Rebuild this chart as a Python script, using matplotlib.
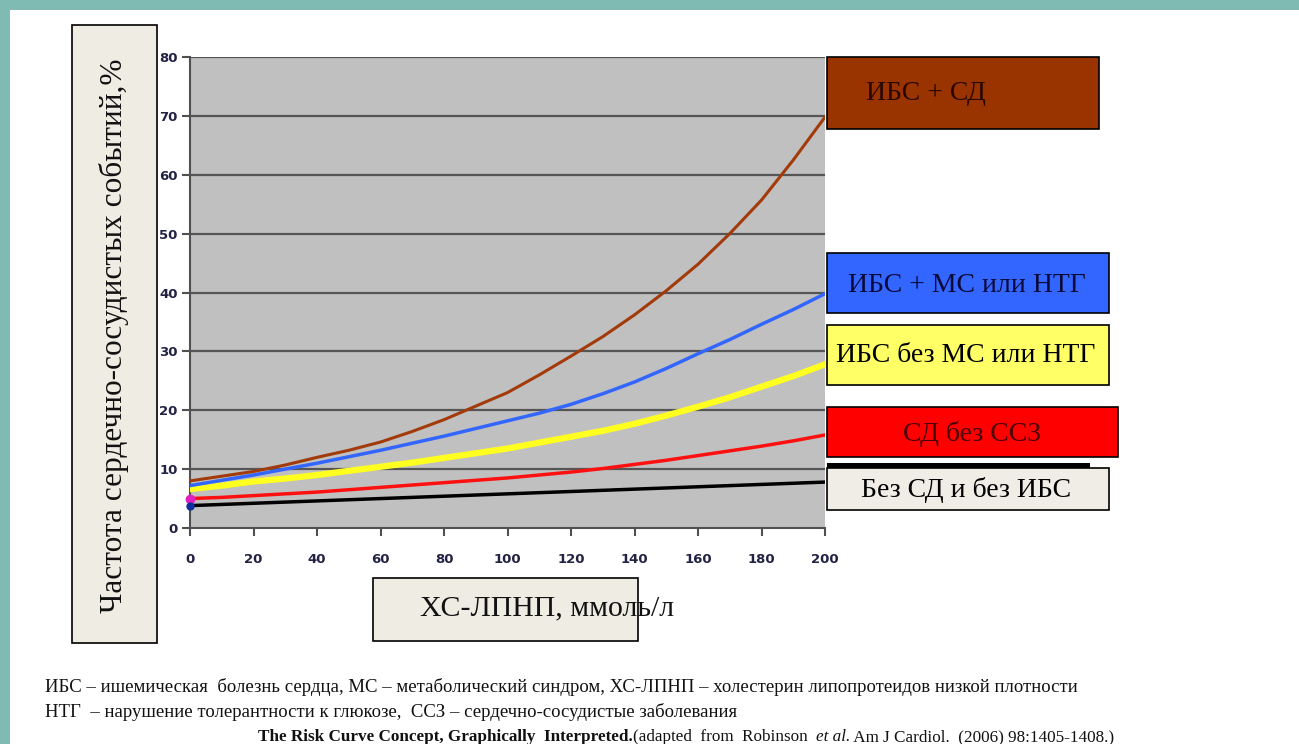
import matplotlib
matplotlib.use("Agg")
import matplotlib.pyplot as plt
from matplotlib.patches import Rectangle

# --- data ---
ldl = [0, 10, 20, 30, 40, 50, 60, 70, 80, 90, 100, 110, 120, 130, 140, 150, 160, 170, 180, 190, 200]
ibs_sd = [8.0, 8.8, 9.6, 10.7, 12.0, 13.2, 14.6, 16.4, 18.4, 20.7, 23.0, 26.0, 29.2, 32.5, 36.2, 40.3,
          44.8, 50.0, 55.7, 62.5, 69.8]
ibs_ms = [7.2, 8.1, 9.0, 10.0, 11.0, 12.1, 13.2, 14.4, 15.6, 16.9, 18.2, 19.5, 21.0, 22.8, 24.8, 27.1,
          29.6, 32.0, 34.6, 37.1, 39.8]
ibs_no_ms = [6.6, 7.2, 7.9, 8.4, 9.0, 9.7, 10.4, 11.1, 11.9, 12.7, 13.5, 14.5, 15.5, 16.5, 17.7, 19.1,
             20.6, 22.2, 24.0, 25.8, 27.8]
sd_no_ssz = [5.0, 5.2, 5.5, 5.8, 6.1, 6.5, 6.9, 7.3, 7.7, 8.1, 8.5, 9.0, 9.5, 10.1, 10.8, 11.5,
             12.3, 13.1, 13.9, 14.8, 15.8]
no_sd_ibs = [3.8, 4.0, 4.2, 4.4, 4.6, 4.8, 5.0, 5.2, 5.4, 5.6, 5.8, 6.0, 6.2, 6.4, 6.6, 6.8,
             7.0, 7.2, 7.4, 7.6, 7.8]

series_labels = ["ИБС + СД", "ИБС + МС или НТГ", "ИБС без МС или НТГ", "СД без ССЗ", "Без СД и без ИБС"]
x_ticks = [0, 20, 40, 60, 80, 100, 120, 140, 160, 180, 200]
y_ticks = [0, 10, 20, 30, 40, 50, 60, 70, 80]

W, H = 1299, 744
fig = plt.figure(figsize=(W / 100, H / 100), dpi=100)
fig.patch.set_facecolor("white")

# overlay in pixel coords for boxes / captions
ov = fig.add_axes([0, 0, 1, 1], zorder=0)
ov.set_xlim(0, W)
ov.set_ylim(H, 0)
ov.axis("off")

teal = "#7fbab3"
ov.add_patch(Rectangle((0, 0), W, 10, color=teal, lw=0))
ov.add_patch(Rectangle((0, 0), 10, H, color=teal, lw=0))

# --- main chart ---
ax = fig.add_axes([190 / W, 1 - 528 / H, 635 / W, 471 / H], zorder=2)
ax.set_facecolor("#c0c0c0")
for y in y_ticks[1:]:
    ax.axhline(y, color="#555555", lw=1.6, zorder=1)

ax.plot(ldl, no_sd_ibs, color="#000000", lw=2.5, zorder=3)
ax.plot(ldl, sd_no_ssz, color="#ff1010", lw=2.5, zorder=3)
ax.plot(ldl, ibs_no_ms, color="#ffff20", lw=4.5, zorder=3)
ax.plot(ldl, ibs_ms, color="#3366ff", lw=2.5, zorder=3)
ax.plot(ldl, ibs_sd, color="#a33a0a", lw=2.2, zorder=3)
ax.plot([0], [sd_no_ssz[0]], "o", color="#e020c0", ms=6, zorder=4, clip_on=False)
ax.plot([0], [no_sd_ibs[0]], "o", color="#1030a0", ms=5, zorder=4, clip_on=False)

ax.set_xlim(0, 200)
ax.set_ylim(0, 80)
ax.set_xticks(x_ticks)
ax.set_yticks(y_ticks)
for s in ["top", "right"]:
    ax.spines[s].set_visible(False)
for s in ["left", "bottom"]:
    ax.spines[s].set_color("#505050")
    ax.spines[s].set_linewidth(1.5)
ax.tick_params(axis="both", length=6, width=1.5, color="#505050", direction="out")
ax.tick_params(axis="y", pad=3)
ax.tick_params(axis="x", pad=12)
for lab in ax.get_xticklabels() + ax.get_yticklabels():
    lab.set_fontweight("bold")
    lab.set_fontsize(9.5)
    lab.set_color("#222244")

serif = "Liberation Serif"

# y label box
ov.add_patch(Rectangle((72, 25), 85, 618, facecolor="#efece3", edgecolor="black", lw=1.2))
ov.text(114, 336, "Частота сердечно-сосудистых событий,%", rotation=90,
        ha="center", va="center", fontsize=22.5, family=serif, color="#111111")

# x label box
ov.add_patch(Rectangle((373, 578), 265, 63, facecolor="#efece3", edgecolor="black", lw=1.2))
ov.text(420, 608, "ХС-ЛПНП, ммоль/л", ha="left", va="center",
        fontsize=21.5, family=serif, color="#111111")

# legend boxes
ov.add_patch(Rectangle((827, 463), 263, 7, facecolor="black", lw=0))
boxes = [
    ((827, 57, 272, 72), "#993300", "#2a0800", (926, 94)),
    ((827, 253, 282, 60), "#3366ff", "#0a0a3a", (967, 286)),
    ((827, 325, 282, 60), "#ffff66", "#000000", (966, 356)),
    ((827, 407, 291, 50), "#ff0000", "#4a0000", (972, 434)),
    ((827, 468, 282, 42), "#f0ede6", "#000000", (966, 490)),
]
for (box, fc, tc, (tx, ty)), label in zip(boxes, series_labels):
    x, y, w, h = box
    ov.add_patch(Rectangle((x, y), w, h, facecolor=fc, edgecolor="black", lw=1.2))
    ov.text(tx, ty, label, ha="center", va="center", fontsize=20, family=serif, color=tc)

# captions
cap = dict(family=serif, color="#111111", va="baseline", ha="left")
ov.text(45, 692, "ИБС – ишемическая  болезнь сердца, МС – метаболический синдром, ХС-ЛПНП – холестерин липопротеидов низкой плотности",
        fontsize=13.5, **cap)
ov.text(45, 717, "НТГ  – нарушение толерантности к глюкозе,  ССЗ – сердечно-сосудистые заболевания",
        fontsize=13.5, **cap)

pieces = [
    ("The Risk Curve Concept, Graphically  Interpreted.", dict(fontweight="bold")),
    ("(adapted  from  Robinson  ", {}),
    ("et al.", dict(style="italic")),
    (" Am J Cardiol.  (2006) 98:1405-1408.)", {}),
]
fig.canvas.draw()
renderer = fig.canvas.get_renderer()
x0 = 258
for txt, kw in pieces:
    t = ov.text(x0, 741, txt, fontsize=12.3, **cap, **kw)
    ext = t.get_window_extent(renderer)
    x0 += ext.width * W / fig.bbox.width

fig.savefig("out.png", dpi=100)
